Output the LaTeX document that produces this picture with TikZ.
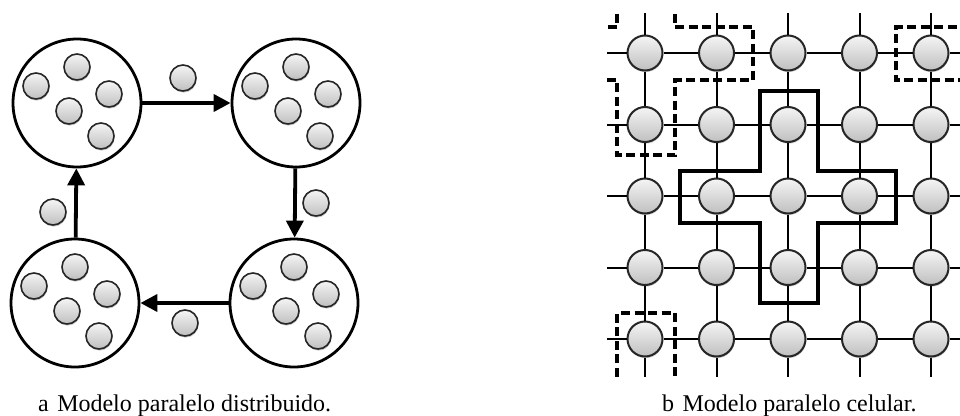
\documentclass[tikz,border=0pt]{standalone}
\usepackage{fontspec}
\setmainfont{Liberation Serif}
\usetikzlibrary{shadows,arrows.meta,calc}

\tikzset{
  ball/.style={circle, draw=black!85, line width=1.6pt, minimum size=26pt, inner sep=0pt,
    top color=gray!8, bottom color=gray!50,
    drop shadow={shadow xshift=0.6pt, shadow yshift=-1.6pt, opacity=0.3, fill=black!70}},
  cell/.style={ball, minimum size=35pt, line width=2pt},
  island/.style={circle, draw, line width=2.8pt, minimum size=128pt, inner sep=0pt},
  flow/.style={line width=3.8pt, -{Triangle[length=17pt,width=17pt]}},
  link/.style={line width=2pt},
  hood/.style={line width=3.4pt, line join=miter},
  hooddash/.style={hood, dash pattern=on 9pt off 4.5pt},
  caption/.style={anchor=base west, font=\fontsize{24}{28}\selectfont, inner sep=0pt}
}

\begin{document}
\begin{tikzpicture}[x=1pt,y=-1pt]
\useasboundingbox (0,0) rectangle (960,415);

% ---------- distributed model: four islands in a ring ----------
\node[island] (p1) at (77,103) {};
\node[island] (p2) at (296,103) {};
\node[island] (p3) at (294,303) {};
\node[island] (p4) at (75,303) {};

\foreach \p in {p1,p2,p3,p4}{
  \foreach \dx/\dy [count=\k] in {0/-36, -41/-17, 32/-9, -8/8, 24/33}{
    \node[ball] (\p-\k) at ($(\p)+(\dx,\dy)$) {};
  }
}

\draw[flow] (p1) -- (p2);
\draw[flow] (p2) -- (p3);
\draw[flow] (p3) -- (p4);
\draw[flow] (p4) -- (p1);

% migrating individuals
\node[ball] (m1) at (183,78) {};
\node[ball] (m2) at (316,203) {};
\node[ball] (m3) at (185,323) {};
\node[ball] (m4) at (53,212) {};

% ---------- cellular model: toroidal grid ----------
\begin{scope}
\clip (607,13) rectangle (960,376);
\foreach \r in {0,...,4}{
  \foreach \c in {0,...,4}{
    \node[cell] (g-\r-\c) at ({645+71.5*\c},{53+71.5*\r}) {};
  }
}
\foreach \r in {0,...,4}{
  \coordinate (gl-\r) at (600,{53+71.5*\r});
  \coordinate (gr-\r) at (970,{53+71.5*\r});
  \draw[link] (gl-\r) -- (g-\r-0);
  \draw[link] (g-\r-4) -- (gr-\r);
  \foreach \c [count=\n from 1] in {0,...,3}{
    \draw[link] (g-\r-\c) -- (g-\r-\n);
  }
}
\foreach \c in {0,...,4}{
  \coordinate (gt-\c) at ({645+71.5*\c},0);
  \coordinate (gb-\c) at ({645+71.5*\c},390);
  \draw[link] (gt-\c) -- (g-0-\c);
  \draw[link] (g-4-\c) -- (gb-\c);
  \foreach \r [count=\n from 1] in {0,...,3}{
    \draw[link] (g-\r-\c) -- (g-\n-\c);
  }
}

% neighbourhood of the corner cell, wrapping round the torus
\draw[hooddash] (675,0) -- (675,27) -- (753,27) -- (753,80) -- (675,80)
  -- (675,155) -- (617,155) -- (617,80) -- (600,80);
\draw[hooddash] (617,0) -- (617,27) -- (600,27);
\draw[hooddash] (970,27) -- (896,27) -- (896,80) -- (970,80);
\draw[hooddash] (617,390) -- (617,313) -- (675,313) -- (675,390);

% neighbourhood of the central cell
\draw[hood] (760,91) -- (818,91) -- (818,171) -- (896,171) -- (896,223)
  -- (818,223) -- (818,303) -- (760,303) -- (760,223) -- (680,223)
  -- (680,171) -- (760,171) -- cycle;
\end{scope}

% ---------- captions ----------
\node[caption] (capa) at (38,411) {a\hspace{0.35em}Modelo paralelo distribuido.};
\node[caption] (capb) at (662,411) {b\hspace{0.35em}Modelo paralelo celular.};
\end{tikzpicture}
\end{document}
